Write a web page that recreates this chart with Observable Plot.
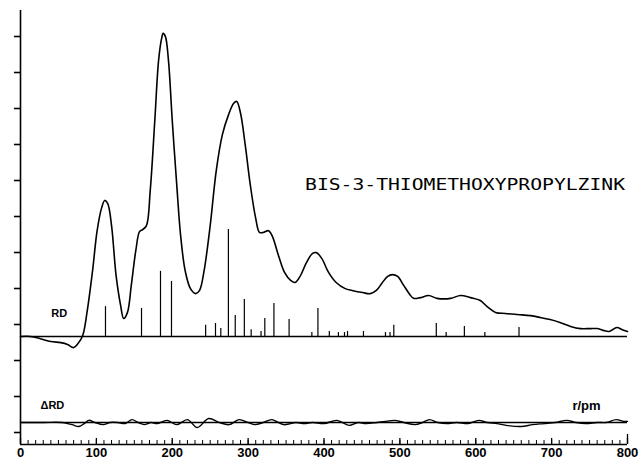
<!DOCTYPE html>
<html>
<head>
<meta charset="utf-8">
<script src="https://cdn.jsdelivr.net/npm/d3@7"></script>
<script src="https://cdn.jsdelivr.net/npm/@observablehq/plot@0.6"></script>
<style>
  html, body { margin: 0; padding: 0; background: #fff; }
  #chart { width: 643px; height: 464px; }
</style>
</head>
<body>
<div id="chart"></div>
<script>
// ---- Data (y in tick units) ----
const rdR = [0,13,26,40,53,62,70,76,82,88,95,101,107,111,115,120,126,132,136,141,146,152,157,161,166,171,177,182,186,188,191,195,200,206,211,217,224,231,236,242,250,258,266,274,281,285,290,296,303,310,315,320,327,332,340,348,356,362,369,377,385,390,397,406,416,428,437,451,461,469,477,484,490,497,505,513,518,527,538,549,567,580,593,606,615,626,639,655,672,685,698,711,725,738,751,760,768,776,786,793,800];
const rdV = [0,0,-0.06,-0.14,-0.17,-0.22,-0.31,-0.19,0.03,0.72,1.83,2.94,3.58,3.78,3.69,3.08,1.69,0.86,0.50,0.67,1.42,2.39,2.92,2.97,3.08,4.06,6.0,7.67,8.28,8.42,8.33,7.67,6.0,4.19,2.81,1.83,1.33,1.19,1.28,1.83,3.08,4.61,5.6,6.15,6.48,6.53,6.2,5.35,4.19,3.28,2.89,2.89,2.94,2.78,2.25,1.78,1.56,1.5,1.69,2.06,2.31,2.33,2.17,1.78,1.5,1.33,1.28,1.22,1.19,1.28,1.5,1.67,1.72,1.67,1.42,1.17,1.06,1.08,1.14,1.06,1.06,1.14,1.08,1.0,0.83,0.67,0.64,0.61,0.58,0.53,0.47,0.39,0.28,0.22,0.22,0.22,0.17,0.14,0.25,0.19,0.14];

const stickR = [112,159.5,184.5,199,244,257,264,274,283,295,304,317,322,334,354,384,392,407,419,427,431,452,481,487,492,548,561,585,612,657];
const stickH = [0.83,0.78,1.81,1.53,0.31,0.36,0.22,2.97,0.58,1.03,0.19,0.14,0.5,0.92,0.47,0.11,0.78,0.14,0.11,0.11,0.14,0.14,0.11,0.11,0.31,0.36,0.11,0.28,0.11,0.25];

const dR = [0,30,55,68,77,84,90,98,109,118,128,138,147,155,163,172,180,193,206,220,233,248,262,275,288,300,309,320,331,340,347,356,363,374,385,400,417,433,445,455,470,482,493,505,520,530,539,550,562,575,590,604,615,628,640,660,675,690,705,720,732,745,760,772,785,795,800];
const dV = [0,0,0,-0.06,-0.11,-0.03,0.06,0,-0.06,0,0,-0.03,0.08,0,-0.06,0,-0.03,0.06,-0.06,0.08,-0.14,0.11,0,-0.06,0.08,0,-0.06,0,0.08,0,-0.06,-0.03,0,-0.03,0,-0.03,0.06,-0.08,0,-0.03,0,0.03,0.06,0,-0.06,0,0.08,0,-0.03,0,-0.03,0.06,0,-0.03,-0.08,-0.11,-0.06,-0.03,0,0.06,0,-0.03,0,0,0.08,0.03,0.03];

const xMajor = [0,100,200,300,400,500,600,700,800];
const xMinor = d3.range(0, 801, 10);
const yTicks = [0,1,2,3,4,5,6,7,8,9,10,11];

const title = "BIS-3-THIOMETHOXYPROPYLZINK";
const rdOffset = 96/36;   // RD baseline
const dOffset = 10/36;    // ΔRD baseline
const yMin = -12/36, yMax = 422/36;

const rd = rdR.map((r, i) => ({r, v: rdV[i] + rdOffset}));
const dd = dR.map((r, i) => ({r, v: dV[i] + dOffset}));
const sticks = stickR.map((r, i) => ({r, h: stickH[i]}));

const svg = Plot.plot({
  width: 643,
  height: 464,
  marginLeft: 20,
  marginRight: 16,
  marginTop: 10,
  marginBottom: 20,
  x: {domain: [0, 800], axis: null},
  y: {domain: [yMin, yMax], axis: null},
  style: {background: "white", fontFamily: "Liberation Sans, Arial, sans-serif"},
  marks: [
    // frame axes
    Plot.ruleX([0], {y1: yMin, y2: yMax, stroke: "black", strokeWidth: 1.6}),
    Plot.ruleY([yMin], {x1: 0, x2: 800, stroke: "black", strokeWidth: 1.6}),
    // left ticks
    Plot.ruleY(yTicks, {x1: -8, x2: 0, stroke: "black", strokeWidth: 1.6}),
    // bottom ticks
    Plot.ruleX(xMinor, {y1: yMin, y2: yMin + 4/36, stroke: "black", strokeWidth: 1}),
    Plot.ruleX(xMajor, {y1: yMin, y2: yMin + 6/36, stroke: "black", strokeWidth: 1.3}),
    Plot.ruleX([800], {y1: yMin, y2: yMin + 10/36, stroke: "black", strokeWidth: 1.3}),
    Plot.text(xMajor, {x: d => d, y: yMin, dy: 8, text: d => String(d), fontSize: 13, fontWeight: "bold", fill: "black"}),
    // baselines
    Plot.ruleY([rdOffset], {x1: 0, x2: 800, stroke: "black", strokeWidth: 1.5}),
    Plot.ruleY([dOffset], {x1: 0, x2: 800, stroke: "black", strokeWidth: 1.3}),
    // sticks
    Plot.ruleX(sticks, {x: "r", y1: rdOffset, y2: d => rdOffset + d.h, stroke: "black", strokeWidth: 1.2}),
    // curves
    Plot.line(rd, {x: "r", y: "v", curve: "catmull-rom", stroke: "black", strokeWidth: 1.6}),
    Plot.line(dd, {x: "r", y: "v", curve: "catmull-rom", stroke: "black", strokeWidth: 1.4}),
    // labels
    Plot.text([title], {x: 375, y: (432-185)/36, text: d => d, textAnchor: "start", fontSize: 15, fontFamily: "DejaVu Sans Mono", fill: "black"}),
    Plot.text(["RD"], {x: 51, y: (432-313)/36, text: d => d, fontSize: 11, fontWeight: "bold", fill: "black"}),
    Plot.text(["\u0394RD"], {x: 42, y: (432-405)/36, text: d => d, fontSize: 11, fontWeight: "bold", fill: "black"}),
    Plot.text(["r/pm"], {x: 746, y: (432-405)/36, text: d => d, fontSize: 13, fontWeight: "bold", fill: "black"})
  ]
});

d3.select(svg).selectAll("text").filter(function() { return this.textContent === title; })
  .attr("textLength", 320).attr("lengthAdjust", "spacingAndGlyphs");

document.getElementById("chart").appendChild(svg);
</script>
</body>
</html>
